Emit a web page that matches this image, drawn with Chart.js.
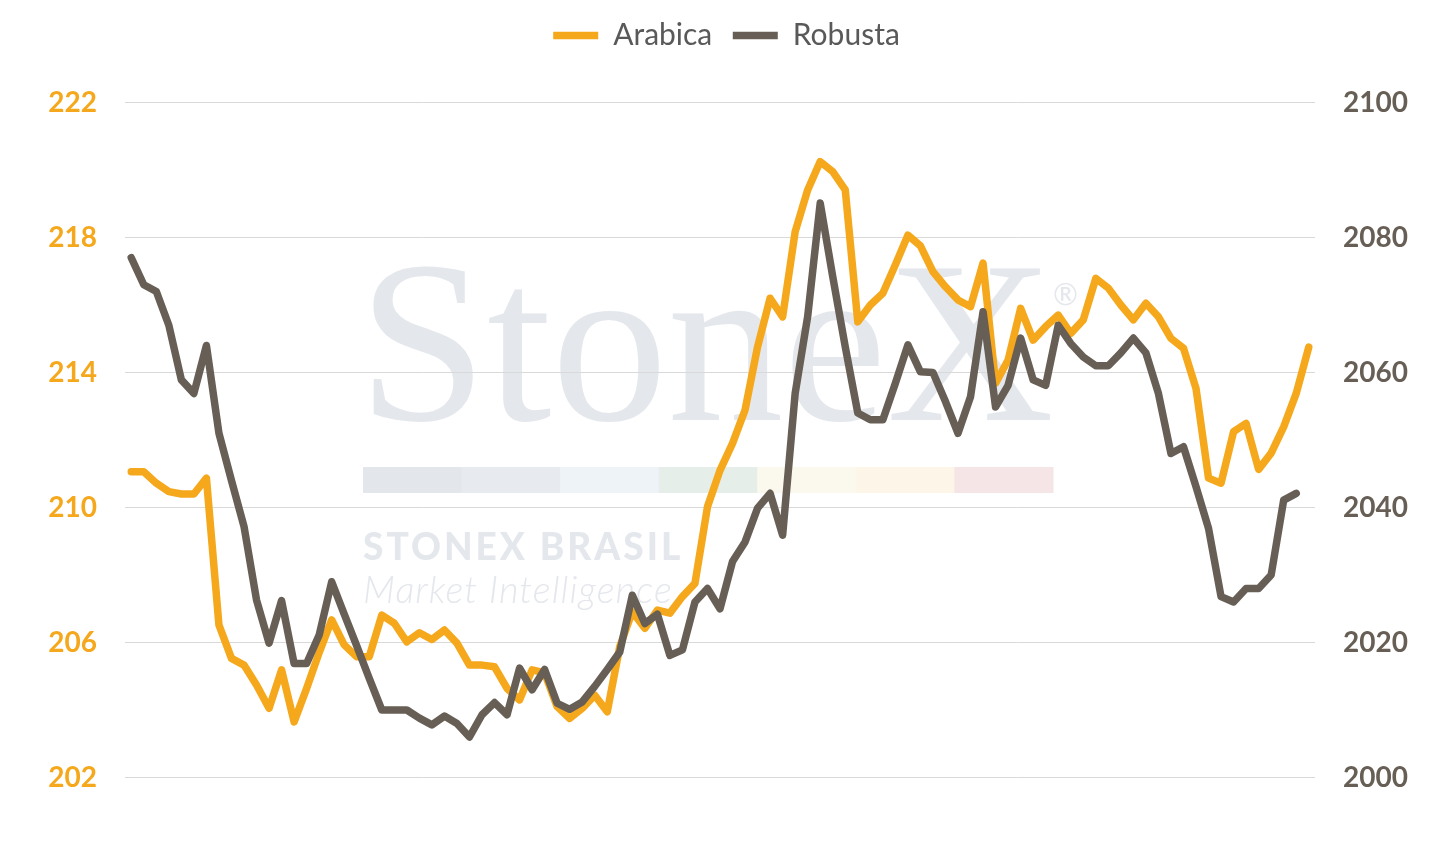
<!DOCTYPE html>
<html>
<head>
<meta charset="utf-8">
<script src="https://cdn.jsdelivr.net/npm/chart.js@4.4.1/dist/chart.umd.min.js"></script>
<style>
  html, body { margin: 0; padding: 0; background: #ffffff; }
  #wrap { position: relative; width: 1453px; height: 842px; }
</style>
</head>
<body>
<div id="wrap"><canvas id="c"></canvas></div>
<script>
const categories = [
  '1','2','3','4','5','6','7','8','9','10','11','12','13','14','15','16','17','18','19','20',
  '21','22','23','24','25','26','27','28','29','30','31','32','33','34','35','36','37','38','39','40',
  '41','42','43','44','45','46','47','48','49','50','51','52','53','54','55','56','57','58','59','60',
  '61','62','63','64','65','66','67','68','69','70','71','72','73','74','75','76','77','78','79','80',
  '81','82','83','84','85','86','87','88','89','90','91','92','93','94','95'
];

const arabica = [
  211.06, 211.06, 210.72, 210.47, 210.40, 210.40, 210.87, 206.52, 205.53, 205.33,
  204.74, 204.05, 205.19, 203.65, 204.64, 205.70, 206.67, 205.93, 205.58, 205.58,
  206.81, 206.57, 206.02, 206.29, 206.09, 206.37, 205.98, 205.33, 205.33, 205.28,
  204.64, 204.30, 205.19, 205.10, 204.10, 203.75, 204.05, 204.44, 203.95, 205.88,
  206.91, 206.42, 206.96, 206.87, 207.36, 207.75, 210.02, 211.10, 211.90, 212.89,
  214.76, 216.20, 215.65, 218.17, 219.41, 220.25, 219.95, 219.41, 215.50, 216.00,
  216.35, 217.19, 218.07, 217.75, 216.99, 216.54, 216.15, 215.95, 217.24, 213.68,
  214.37, 215.90, 214.96, 215.36, 215.70, 215.16, 215.56, 216.79, 216.50, 216.00,
  215.56, 216.05, 215.65, 215.01, 214.72, 213.53, 210.87, 210.72, 212.25, 212.49,
  211.13, 211.61, 212.39, 213.38, 214.75
];

const robusta = [
  2077.0, 2073.0, 2072.0, 2067.0, 2058.9, 2056.9, 2064.0, 2051.0, 2044.0, 2037.2,
  2026.3, 2019.9, 2026.2, 2016.9, 2016.9, 2021.1, 2029.0, 2024.2, 2019.5, 2014.7,
  2010.0, 2010.0, 2010.0, 2008.8, 2007.8, 2009.1, 2008.0, 2006.0, 2009.3, 2011.1,
  2009.3, 2016.2, 2013.0, 2016.0, 2011.0, 2010.1, 2011.2, 2013.5, 2016.0, 2018.6,
  2027.0, 2022.8, 2024.2, 2018.1, 2018.9, 2026.0, 2028.0, 2025.0, 2032.0, 2034.9,
  2039.9, 2042.1, 2035.9, 2056.9, 2068.3, 2085.1, 2074.2, 2063.8, 2054.0, 2053.0,
  2053.0, 2058.4, 2064.1, 2060.1, 2060.0, 2055.7, 2051.0, 2056.4, 2069.0, 2054.9,
  2058.1, 2065.1, 2058.9, 2058.1, 2067.0, 2064.3, 2062.3, 2061.0, 2061.0, 2062.9,
  2065.1, 2062.9, 2056.9, 2048.0, 2049.0, 2043.1, 2036.9, 2026.8, 2026.0, 2028.0,
  2028.0, 2030.0, 2041.1, 2042.1, null
];

const seriesNames = ['Arabica', 'Robusta'];
const leftTicks = { min: 202, max: 222, step: 4 };
const rightTicks = { min: 2000, max: 2100, step: 20 };

const ORANGE = '#F5A81C';
const BROWN = '#675F55';

const watermark = {
  id: 'watermark',
  beforeDraw(chart) {
    const ctx = chart.ctx;
    ctx.save();
    ctx.fillStyle = '#e4e7ec';
    ctx.textBaseline = 'alphabetic';
    ctx.textAlign = 'left';
    ctx.font = '232px "Liberation Serif", "DejaVu Serif", serif';
    ctx.fillText('StoneX', 358, 420);
    ctx.font = '30px Lato, sans-serif';
    ctx.fillText('\u00AE', 1053, 305);
    const strip = ['#e3e6eb', '#e7ebef', '#eef3f7', '#e5eee8', '#fbf9ed', '#fcf5e8', '#f6e5e6'];
    const w = 690 / strip.length;
    strip.forEach((c, i) => {
      ctx.fillStyle = c;
      ctx.fillRect(363 + i * w, 467, w + 0.5, 26);
    });
    ctx.fillStyle = '#e4e7ec';
    try { ctx.letterSpacing = '3px'; } catch (e) {}
    ctx.font = '900 37px Lato, sans-serif';
    ctx.fillText('STONEX BRASIL', 363, 560);
    try { ctx.letterSpacing = '1px'; } catch (e) {}
    ctx.font = 'italic 300 38px Lato, sans-serif';
    ctx.fillText('Market Intelligence', 363, 603);
    try { ctx.letterSpacing = '0px'; } catch (e) {}
    ctx.restore();
  }
};

const legendHeightFix = {
  id: 'legendHeightFix',
  beforeLayout(chart) {
    const lg = chart.legend;
    if (lg && !lg._hfix) {
      const f = lg.fit;
      lg.fit = function () { f.call(this); this.height = 102.5; };
      lg._hfix = true;
    }
  }
};

new Chart(document.getElementById('c'), {
  type: 'line',
  data: {
    labels: categories,
    datasets: [
      {
        label: seriesNames[0],
        data: arabica,
        yAxisID: 'y',
        borderColor: ORANGE,
        backgroundColor: ORANGE,
        borderWidth: 7.5,
        borderJoinStyle: 'round',
        borderCapStyle: 'round',
        pointRadius: 0,
        pointHoverRadius: 0,
        tension: 0,
        fill: false,
        order: 1
      },
      {
        label: seriesNames[1],
        data: robusta,
        yAxisID: 'y1',
        borderColor: BROWN,
        backgroundColor: BROWN,
        borderWidth: 7.5,
        borderJoinStyle: 'round',
        borderCapStyle: 'round',
        pointRadius: 0,
        pointHoverRadius: 0,
        tension: 0,
        fill: false,
        spanGaps: false,
        order: 0
      }
    ]
  },
  options: {
    responsive: true,
    maintainAspectRatio: false,
    animation: false,
    devicePixelRatio: 1,
    layout: { padding: { top: 0, left: 0, right: 0, bottom: 64.5 } },
    plugins: {
      tooltip: { enabled: false },
      legend: {
        display: true,
        position: 'top',
        align: 'center',
        labels: {
          usePointStyle: true,
          pointStyle: 'line',
          pointStyleWidth: 45,
          padding: 20.5,
          color: '#595959',
          font: { family: 'Lato, sans-serif', size: 30 },
          sort: (a, b) => a.datasetIndex - b.datasetIndex
        }
      }
    },
    scales: {
      x: {
        type: 'category',
        display: false,
        offset: true,
        grid: { display: false }
      },
      y: {
        position: 'left',
        min: leftTicks.min,
        max: leftTicks.max,
        afterFit(scale) { scale.width = 125; },
        ticks: {
          stepSize: leftTicks.step,
          color: ORANGE,
          padding: 28,
          font: { family: 'Lato, sans-serif', size: 28, weight: 'bold' },
          callback: (v) => String(v)
        },
        grid: { color: '#d9d9d9', lineWidth: 1, drawTicks: false },
        border: { display: false }
      },
      y1: {
        position: 'right',
        min: rightTicks.min,
        max: rightTicks.max,
        afterFit(scale) { scale.width = 138; },
        ticks: {
          stepSize: rightTicks.step,
          color: BROWN,
          padding: 28,
          font: { family: 'Lato, sans-serif', size: 28, weight: 'bold' },
          callback: (v) => String(v)
        },
        grid: { display: false, drawTicks: false },
        border: { display: false }
      }
    }
  },
  plugins: [watermark, legendHeightFix]
});
</script>
</body>
</html>
